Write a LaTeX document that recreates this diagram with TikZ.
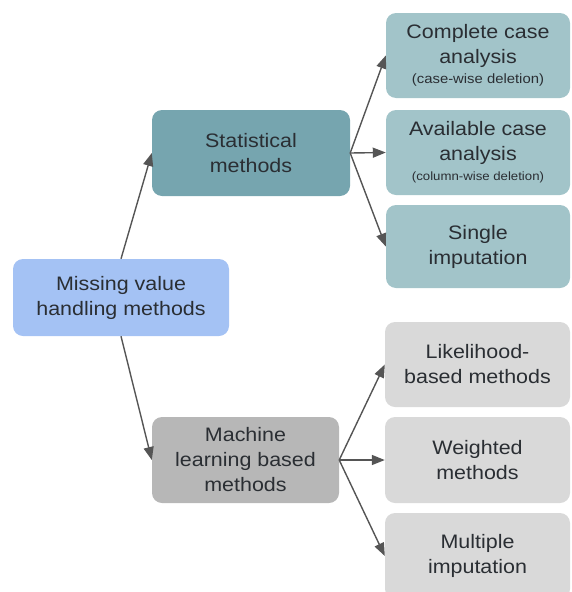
\documentclass[tikz,border=0pt]{standalone}
\usepackage{fontspec}
\setmainfont{Liberation Sans}[FakeStretch=1.1]
\usetikzlibrary{arrows.meta}
\definecolor{rootblue}{HTML}{A4C2F4}
\definecolor{statteal}{HTML}{76A5AF}
\definecolor{leafteal}{HTML}{A2C4C9}
\definecolor{mlgrey}{HTML}{B7B7B7}
\definecolor{leafgrey}{HTML}{D9D9D9}
\definecolor{linkgrey}{HTML}{555555}
\definecolor{inkdark}{HTML}{2A2E33}
\tikzset{
  box/.style={rounded corners=10pt, align=center, inner sep=0pt,
    text=inkdark, font=\fontsize{19.5}{25}\selectfont},
  link/.style={draw=linkgrey, line width=1.4pt,
    -{Triangle[length=13pt,width=10pt]}},
}
\begin{document}
\begin{tikzpicture}[x=1pt,y=-1pt]
  \useasboundingbox (0,0) rectangle (571,592);
  % root
  \node[box, fill=rootblue, minimum width=216pt, minimum height=77pt]
    (root) at (121,297.5) {Missing value\\handling methods};
  % statistical branch
  \node[box, fill=statteal, minimum width=198pt, minimum height=86pt]
    (stat) at (251,153) {Statistical\\methods};
  \node[box, fill=leafteal, minimum width=184pt, minimum height=85pt]
    (cca) at (478,55.5) {Complete case\\analysis\\[-5pt]{\fontsize{13.5}{14}\selectfont (case-wise deletion)}};
  \node[box, fill=leafteal, minimum width=184pt, minimum height=85pt]
    (aca) at (478,152.5) {Available case\\analysis\\[-5pt]{\fontsize{12}{13}\selectfont (column-wise deletion)}};
  \node[box, fill=leafteal, minimum width=184pt, minimum height=83pt]
    (single) at (478,246.5) {Single\\imputation};
  % machine learning branch
  \node[box, fill=mlgrey, minimum width=187pt, minimum height=86pt]
    (ml) at (245.5,460) {Machine\\learning based\\methods};
  \node[box, fill=leafgrey, minimum width=185pt, minimum height=85pt]
    (lik) at (477.5,364.5) {Likelihood-\\based methods};
  \node[box, fill=leafgrey, minimum width=185pt, minimum height=86pt]
    (wei) at (477.5,460) {Weighted\\methods};
  \node[box, fill=leafgrey, minimum width=185pt, minimum height=86pt]
    (mult) at (477.5,556) {Multiple\\imputation};
  % connectors
  \draw[link] (root.north) -- (stat.west);
  \draw[link] (root.south) -- (ml.west);
  \draw[link] (stat.east) -- (cca.west);
  \draw[link] (stat.east) -- (aca.west);
  \draw[link] (stat.east) -- (single.west);
  \draw[link] (ml.east) -- (lik.west);
  \draw[link] (ml.east) -- (wei.west);
  \draw[link] (ml.east) -- (mult.west);
\end{tikzpicture}
\end{document}
